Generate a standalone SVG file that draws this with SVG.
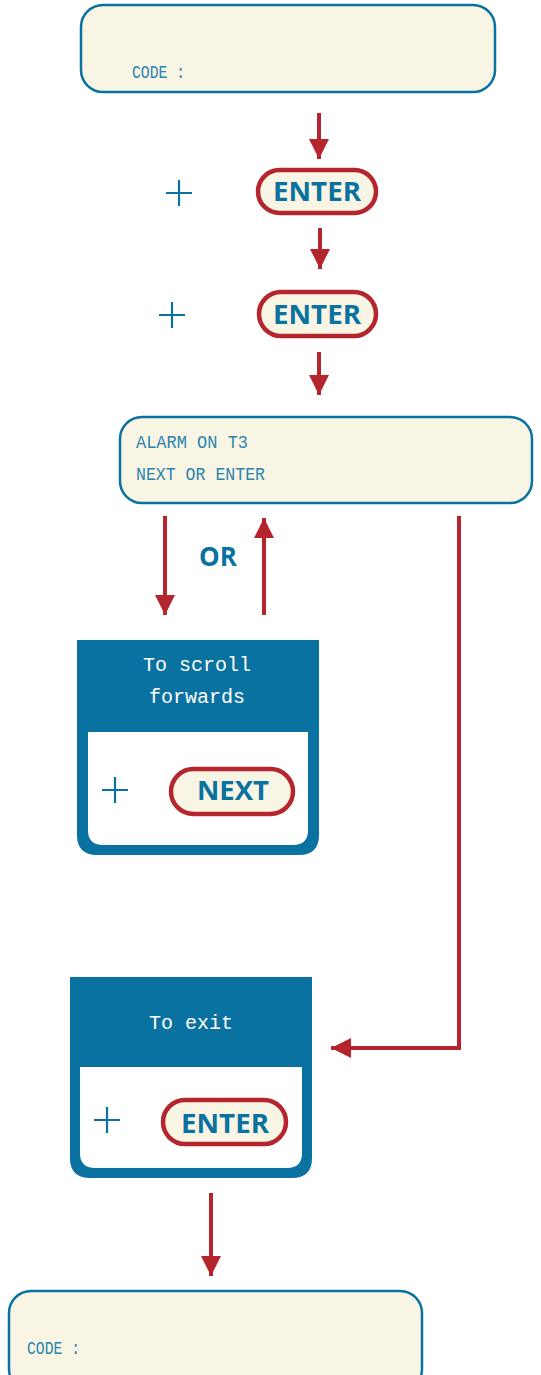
<svg xmlns="http://www.w3.org/2000/svg" width="541" height="1375" viewBox="0 0 541 1375">
<defs>
<style>
.lcd{fill:#f8f5e5;stroke:#0a72a0;stroke-width:2.5}
.lt{font-family:"Liberation Mono",monospace;font-size:18px;fill:#2b84ad}
.pill{fill:#f8f5e5;stroke:#b5252d;stroke-width:4.5}
.pt{font-family:"Open Sans","Noto Sans",sans-serif;font-weight:700;font-size:27px;fill:#0a72a0;text-anchor:middle}
.plus{stroke:#0a72a0;stroke-width:2.2;fill:none}
.hdr{fill:#0a72a0}
.ht{font-family:"Liberation Mono",monospace;font-size:20px;fill:#ffffff;text-anchor:middle}
.ar{stroke:#b5252d;stroke-width:4;fill:none}
.or{font-family:"Open Sans","Noto Sans",sans-serif;font-weight:700;font-size:26px;fill:#0a72a0;text-anchor:middle}
</style>
<marker id="ah" viewBox="0 0 10 10" refX="10" refY="5" markerWidth="5" markerHeight="5.5" markerUnits="strokeWidth" orient="auto">
<path d="M0,0 L10,5 L0,10 z" fill="#b5252d"/>
</marker>
</defs>
<g id="lcd1">
<rect class="lcd" x="81" y="5" width="414" height="87" rx="22"/>
<text class="lt" x="132" y="78" textLength="53" lengthAdjust="spacingAndGlyphs">CODE :</text>
</g>
<g id="enter1">
<path class="plus" d="M166,193 H192 M179,180 V206"/>
<rect class="pill" x="258" y="170" width="118" height="43" rx="21.5"/>
<text class="pt" x="317" y="201" textLength="88" lengthAdjust="spacingAndGlyphs">ENTER</text>
</g>
<g id="enter2">
<path class="plus" d="M159,315 H185 M172,302 V328"/>
<rect class="pill" x="259" y="292" width="117" height="44" rx="22"/>
<text class="pt" x="317" y="324" textLength="88" lengthAdjust="spacingAndGlyphs">ENTER</text>
</g>
<g id="lcd2">
<rect class="lcd" x="120" y="417" width="412" height="86" rx="22"/>
<text class="lt" x="136" y="448" textLength="112" lengthAdjust="spacingAndGlyphs">ALARM ON T3</text>
<text class="lt" x="136" y="480" textLength="129" lengthAdjust="spacingAndGlyphs">NEXT OR ENTER</text>
</g>
<g id="scroll">
<path class="hdr" d="M77,640 H319 V835 Q319,855 299,855 H97 Q77,855 77,835 Z"/>
<path d="M88,732 H308 V830 Q308,845 293,845 H103 Q88,845 88,830 Z" fill="#ffffff"/>
<text class="ht" x="197" y="671">To scroll</text>
<text class="ht" x="197" y="703">forwards</text>
<path class="plus" d="M102,790 H128 M115,777 V803"/>
<rect class="pill" x="171" y="769" width="122" height="45" rx="22.5"/>
<text class="pt" x="233" y="800" textLength="72" lengthAdjust="spacingAndGlyphs">NEXT</text>
</g>
<g id="exit">
<path class="hdr" d="M70,977 H312 V1158 Q312,1178 292,1178 H90 Q70,1178 70,1158 Z"/>
<path d="M80,1067 H302 V1153 Q302,1168 287,1168 H95 Q80,1168 80,1153 Z" fill="#ffffff"/>
<text class="ht" x="191" y="1029">To exit</text>
<path class="plus" d="M94,1120 H120 M107,1107 V1133"/>
<rect class="pill" x="163" y="1100" width="123" height="44" rx="22"/>
<text class="pt" x="225" y="1133" textLength="88" lengthAdjust="spacingAndGlyphs">ENTER</text>
</g>
<g id="lcd3">
<rect class="lcd" x="9" y="1291" width="413" height="100" rx="22"/>
<text class="lt" x="27" y="1354" textLength="53" lengthAdjust="spacingAndGlyphs">CODE :</text>
</g>
<g id="connectors">
<line class="ar" x1="319" y1="113" x2="319" y2="159" marker-end="url(#ah)"/>
<line class="ar" x1="320" y1="228" x2="320" y2="269" marker-end="url(#ah)"/>
<line class="ar" x1="319" y1="352" x2="319" y2="395" marker-end="url(#ah)"/>
<line class="ar" x1="165" y1="516" x2="165" y2="615" marker-end="url(#ah)"/>
<line class="ar" x1="264" y1="615" x2="264" y2="518" marker-end="url(#ah)"/>
<polyline class="ar" points="459,516 459,1048 331,1048" marker-end="url(#ah)"/>
<line class="ar" x1="211" y1="1193" x2="211" y2="1276" marker-end="url(#ah)"/>
<text class="or" x="218" y="566">OR</text>
</g>
</svg>
